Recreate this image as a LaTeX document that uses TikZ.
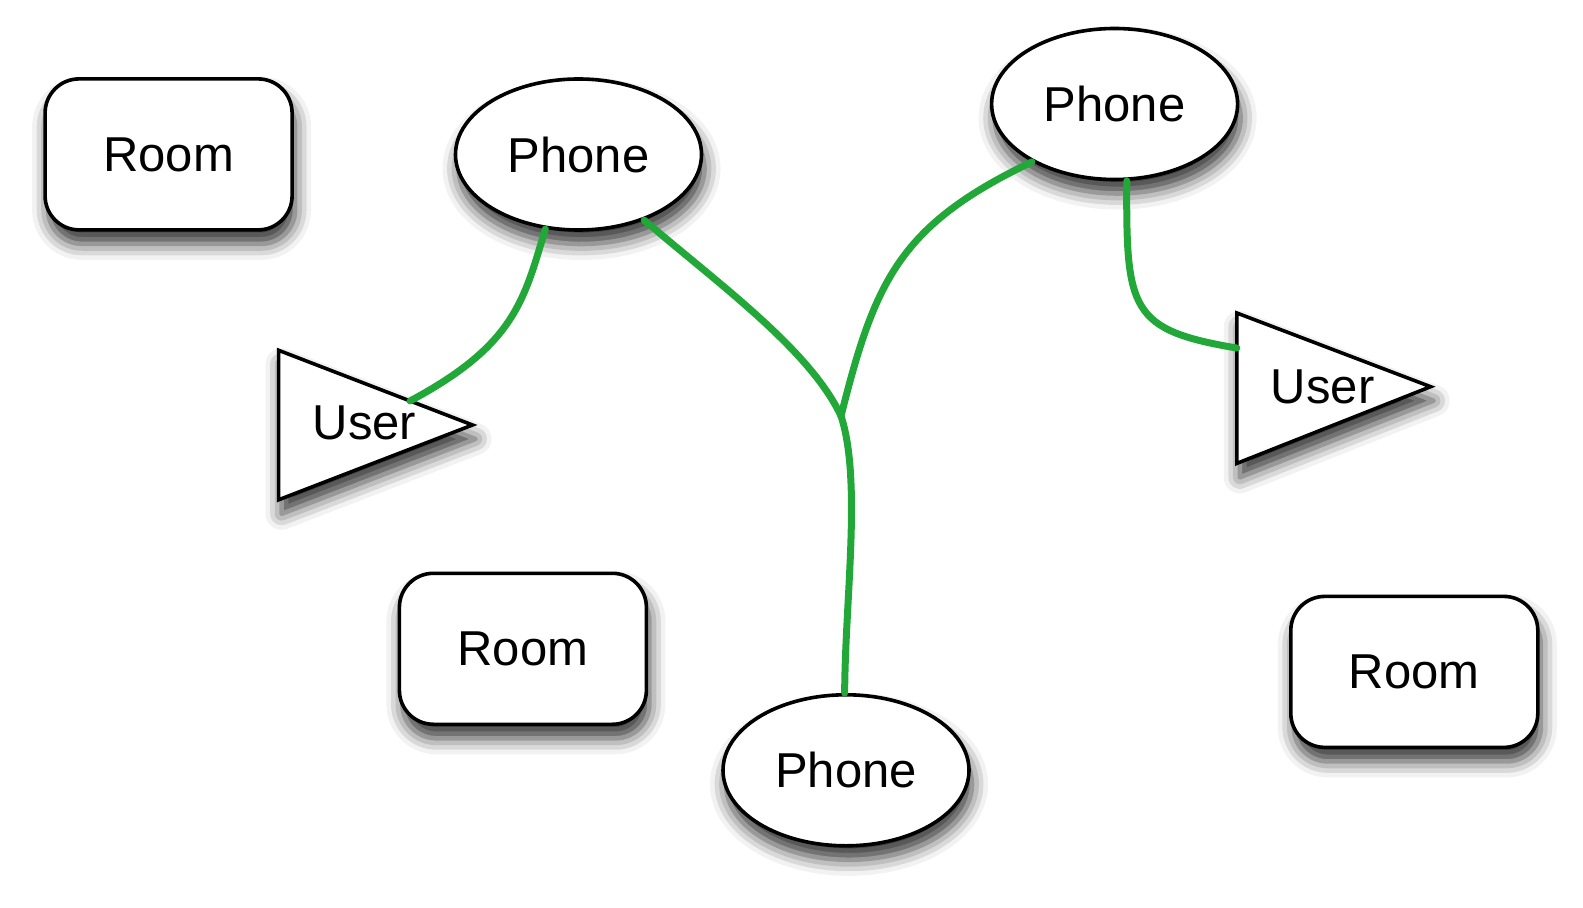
\documentclass[tikz,border=0pt]{standalone}
\usepackage{fontspec}
\setmainfont{Liberation Sans}
\usetikzlibrary{shapes.geometric,shadows.blur,calc}
\definecolor{linkgreen}{RGB}{34,168,56}
\tikzset{
  shp/.style={draw=black, line width=1.8pt, fill=white,
    blur shadow={shadow xshift=1.5pt, shadow yshift=-7pt, shadow blur radius=8pt, shadow opacity=80}},
  lbl/.style={font=\fontsize{24.5}{29}\selectfont, inner sep=0pt},
  roombox/.style={shp, lbl, rectangle, rounded corners=17pt, minimum width=123.5pt, minimum height=75.5pt},
  phonebox/.style={shp, lbl, ellipse, minimum width=123pt, minimum height=75.5pt},
  usertri/.style={shp, line join=miter},
  link/.style={draw=linkgreen, line width=3.5pt, line cap=round},
}
\begin{document}
\begin{tikzpicture}[x=0.5pt,y=-0.5pt]
\useasboundingbox (0,0) rectangle (1583,908);

% rooms
\node[roombox] (room1) at (168.6,154.4) {Room};
\node[roombox] (room2) at (522.9,648.8) {Room};
\node[roombox] (room3) at (1414.3,671.9) {Room};

% phones
\node[phonebox] (phone1) at (578.5,154.5) {Phone};
\node[phonebox] (phone2) at (1114.6,104) {Phone};
\node[phonebox] (phone3) at (846,770.3) {Phone};

% users
\coordinate (u1a) at (278.6,350.3);
\coordinate (u1b) at (278.6,499.8);
\coordinate (u1c) at (472.5,425);
\draw[usertri] (u1a) -- (u1c) -- (u1b) -- cycle;
\node[lbl] (user1) at (364.5,423) {User};

\coordinate (u2a) at (1236.8,313);
\coordinate (u2b) at (1236.8,463.4);
\coordinate (u2c) at (1430.6,386.7);
\draw[usertri] (u2a) -- (u2c) -- (u2b) -- cycle;
\node[lbl] (user2) at (1322.6,387) {User};

% connector end points
\coordinate (u1e) at ($(u1a)!0.678!(u1c)$);
\coordinate (u2e) at ($(u2a)!0.233!(u2b)$);
\coordinate (junc) at (841,416);

% green links
\draw[link] (phone1.246) .. controls (524,300) and (515,345) .. (u1e);
\draw[link] (phone1.315) .. controls (720,285) and (810,350) .. (junc)
            .. controls (862,480) and (845,600) .. (phone3.91);
\draw[link] (phone2.215) .. controls (900,225) and (875,280) .. (junc);
\draw[link] (phone2.279) .. controls (1126,310) and (1130,330) .. (u2e);
\end{tikzpicture}
\end{document}
